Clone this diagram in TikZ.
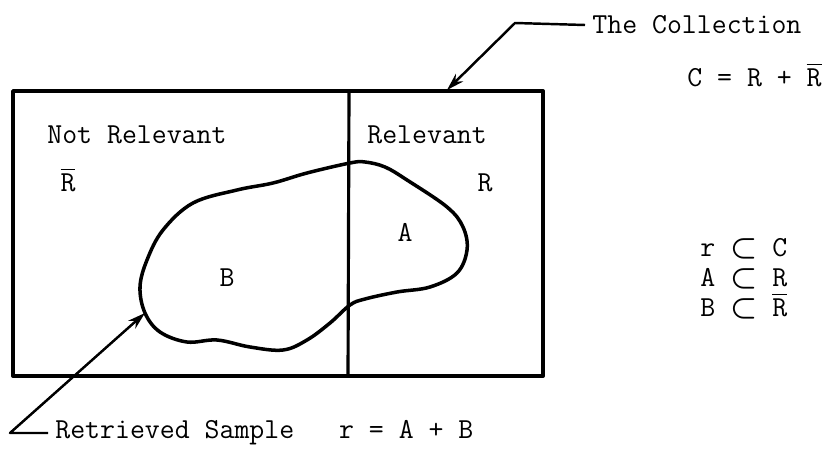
\documentclass[tikz,border=0pt]{standalone}
\usepackage{amsmath}
\usepackage{tikz}
\usetikzlibrary{arrows.meta, positioning}

\begin{document}
\begin{tikzpicture}[
  x=0.02cm, y=-0.02cm,
  frame/.style={line width=2.2pt, line join=round},
  divider/.style={line width=1.8pt},
  blob/.style={line width=2pt},
  arr/.style={-{Stealth[length=10pt, width=6pt]}, line width=1.4pt, line join=round},
  txt/.style={font=\fontsize{16.5}{19}\selectfont\ttfamily, inner sep=0pt},
  lbl/.style={txt, anchor=west}
]
  \useasboundingbox (0,0) rectangle (830,449);

  % The collection (outer box)
  \draw[frame] (13,91) rectangle (543,376);
  \draw[divider] (349,91) -- (348,376);

  % Retrieved sample (blob)
  \draw[blob] plot[smooth cycle, tension=0.6] coordinates {
    (350,163) (365,162) (385,167) (407,180) (447,207) (463,227)
    (467,250) (457,273) (430,287) (397,292) (365,299) (350,305)
    (330,323) (307,340) (283,350) (250,347) (217,340) (187,342)
    (160,332) (145,313) (140,287) (147,260) (163,230) (193,203)
    (237,190) (273,183) (307,173)};

  % Region labels
  \node[lbl] (notrel) at (47,135) {Not Relevant};
  \node[txt] (rbarl) at (68,180) {$\overline{\mbox{R}}$};
  \node[lbl] (rel) at (367,135) {Relevant};
  \node[txt] (rr) at (485,183) {R};
  \node[txt] (aa) at (405,232) {A};
  \node[txt] (bb) at (227,278) {B};

  % Right-hand notes
  \node[txt, anchor=west, inner xsep=4pt] (coll) at (585,25) {The Collection};
  \node[txt, anchor=east] (ceq) at (822,75) {C = R + $\overline{\mbox{R}}$};
  \node[txt, anchor=north west, align=left] (subs) at (700,238)
       {r $\boldsymbol{\subset}$ C\\[-2pt]A $\boldsymbol{\subset}$ R\\[-2pt]B $\boldsymbol{\subset}$ $\overline{\mbox{R}}$};

  % Bottom label
  \node[txt, anchor=west, inner xsep=4pt] (retr) at (48,433)
       {Retrieved Sample\ \ \ r = A + B};

  % Connectors
  \coordinate (collbend) at (515,23);
  \coordinate (colltip) at (447,90);
  \coordinate (retrbend) at (10,433);
  \coordinate (retrtip) at (145,313);
  \draw[arr] (coll.west) -- (collbend) -- (colltip);
  \draw[arr] (retr.west) -- (retrbend) -- (retrtip);
\end{tikzpicture}
\end{document}
